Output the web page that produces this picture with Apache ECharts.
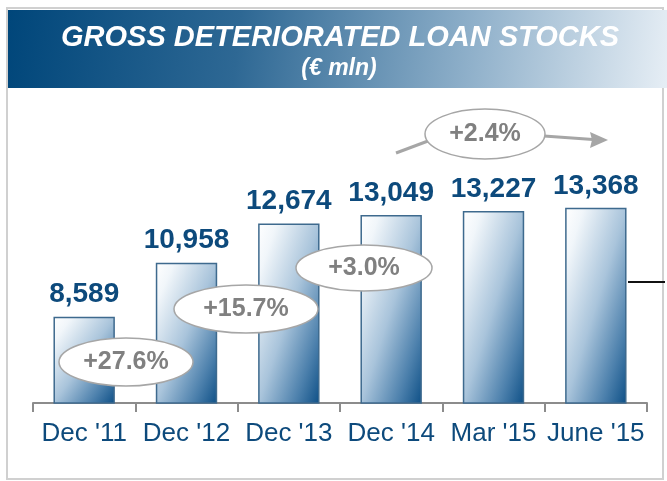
<!DOCTYPE html>
<html>
<head>
<meta charset="utf-8">
<script src="https://cdn.jsdelivr.net/npm/echarts@6/dist/echarts.min.js"></script>
<style>
  html, body { margin: 0; padding: 0; background: #fff; }
  #chart { width: 667px; height: 481px; }
</style>
</head>
<body>
<div id="chart"></div>
<script>
// data
const categories = ["Dec '11", "Dec '12", "Dec '13", "Dec '14", "Mar '15", "June '15"];
const loanStocks = [8589, 10958, 12674, 13049, 13227, 13368];
const growthLabels = ['+27.6%', '+15.7%', '+3.0%', '+2.4%'];

const FONT = '"Liberation Sans", Arial, sans-serif';
const Y_MIN = 4800, Y_MAX = 18100;
const GRID = { left: 33, right: 20, top: 100, bottom: 78 };

const chart = echarts.init(document.getElementById('chart'));

// diagonal shading: light top-left, dark bottom-right
const barGradient = (value) => {
  const plotH = 481 - GRID.top - GRID.bottom;
  const h = (value - Y_MIN) / (Y_MAX - Y_MIN) * plotH;
  const w = 61;
  const d = h * h + w * w;
  return new echarts.graphic.LinearGradient(0, 0, 2 * h * h / d, 2 * w * w / d, [
    { offset: 0, color: '#ffffff' },
    { offset: 0.15, color: '#f1f6fa' },
    { offset: 0.5, color: '#a9c4db' },
    { offset: 0.8, color: '#4c80ac' },
    { offset: 1, color: '#0d4f86' }
  ]);
};

// growth bubbles (annotation only)
const bubble = (cx, cy, rx, ry, text) => ([
  {
    type: 'ellipse',
    shape: { cx: cx, cy: cy, rx: rx, ry: ry },
    style: { fill: '#fff', stroke: '#a6a6a6', lineWidth: 1.5 },
    z: 100
  },
  {
    type: 'text',
    x: cx, y: cy,
    style: {
      text: text, fill: '#808080', align: 'center', verticalAlign: 'middle',
      font: 'bold 25px ' + FONT
    },
    z: 101
  }
]);

chart.setOption({
  animation: false,
  grid: GRID,
  xAxis: {
    type: 'category',
    data: categories,
    axisLine: { lineStyle: { color: '#8c8c8c', width: 2 } },
    axisTick: { show: true, length: 9, lineStyle: { color: '#8c8c8c', width: 2 } },
    axisLabel: {
      interval: 0,
      color: '#0d4a7c', fontSize: 26, margin: 18,
      fontFamily: FONT
    }
  },
  yAxis: {
    type: 'value',
    min: Y_MIN,
    max: Y_MAX,
    show: false,
    splitLine: { show: false }
  },
  series: [{
    type: 'bar',
    data: loanStocks.map(v => ({ value: v, itemStyle: { color: barGradient(v) } })),
    barWidth: '60%',
    itemStyle: { borderColor: '#3e6a8e', borderWidth: 1.5 },
    label: {
      show: true,
      position: 'top',
      distance: 8,
      color: '#0d4a7c',
      fontSize: 28,
      fontWeight: 'bold',
      fontFamily: FONT,
      formatter: p => p.value.toLocaleString('en-US')
    }
  }],
  graphic: [
    // outer frame
    { type: 'rect', shape: { x: 7, y: 8, width: 656, height: 471 },
      style: { fill: 'none', stroke: '#d0d0d0', lineWidth: 2 }, z: 0 },
    // title band
    { type: 'rect', shape: { x: 8, y: 10, width: 659, height: 78 },
      style: {
        fill: new echarts.graphic.LinearGradient(0, 0, 1, 1, [
          { offset: 0, color: '#00467a' },
          { offset: 0.35, color: '#2e6894' },
          { offset: 0.7, color: '#8fb0ca' },
          { offset: 1, color: '#e6eef5' }
        ])
      }, z: 1 },
    { type: 'text', x: 340, y: 38,
      style: { text: 'GROSS DETERIORATED LOAN STOCKS', fill: '#fff', align: 'center', verticalAlign: 'middle',
        font: 'italic bold 29px ' + FONT }, z: 2 },
    { type: 'text', x: 339, y: 69,
      style: { text: '(€ mln)', fill: '#fff', align: 'center', verticalAlign: 'middle',
        font: 'italic bold 23px ' + FONT }, z: 2 },
    // small black marker at right
    { type: 'line', shape: { x1: 628, y1: 282, x2: 665, y2: 282 },
      style: { stroke: '#111', lineWidth: 2 }, z: 50 },
    // arrow behind the +2.4% bubble
    { type: 'line', shape: { x1: 396, y1: 153, x2: 428, y2: 141 },
      style: { stroke: '#a6a6a6', lineWidth: 3 }, z: 99 },
    { type: 'line', shape: { x1: 544, y1: 136, x2: 600, y2: 140 },
      style: { stroke: '#a6a6a6', lineWidth: 3 }, z: 99 },
    { type: 'polygon', shape: { points: [[608, 140], [590, 132], [592, 140], [590, 148]] },
      style: { fill: '#a6a6a6' }, z: 99 },
    ...bubble(126, 362, 67, 24, growthLabels[0]),
    ...bubble(246, 309, 72, 24, growthLabels[1]),
    ...bubble(364, 268, 68, 23, growthLabels[2]),
    ...bubble(485, 134, 60, 25, growthLabels[3])
  ]
});
</script>
</body>
</html>
